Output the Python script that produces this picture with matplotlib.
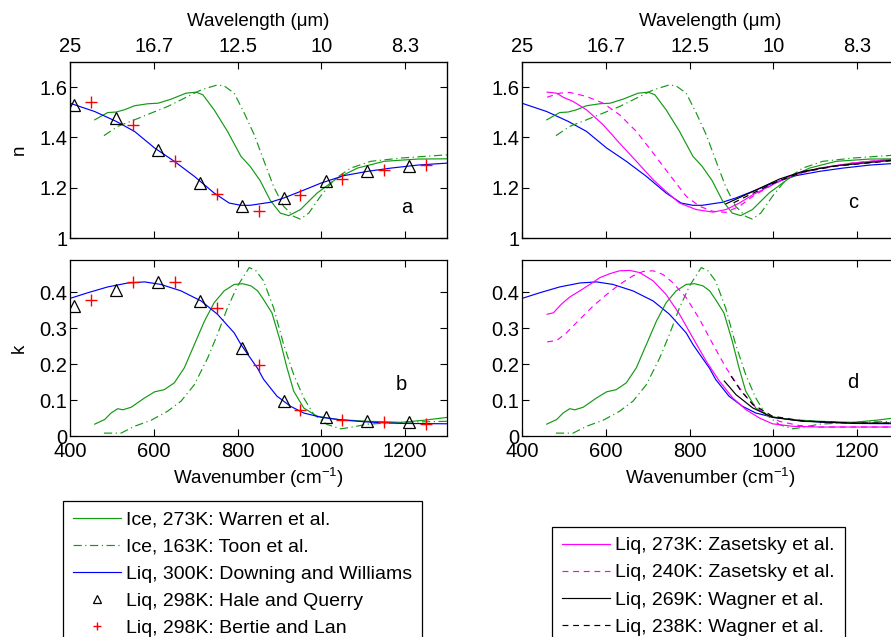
import matplotlib
matplotlib.use('Agg')
import matplotlib.pyplot as plt
from matplotlib.lines import Line2D

plt.rcParams['font.family'] = ['Liberation Sans', 'DejaVu Sans']
plt.rcParams['mathtext.fontset'] = 'custom'
plt.rcParams['mathtext.rm'] = 'Liberation Sans'

# ---------------- data ----------------
wn_ticks = [400, 600, 800, 1000, 1200]
wl_labels = ['25', '16.7', '12.5', '10', '8.3']
n_ticks = [1, 1.2, 1.4, 1.6]
n_labels = ['1', '1.2', '1.4', '1.6']
k_ticks = [0, 0.1, 0.2, 0.3, 0.4]
k_labels = ['0', '0.1', '0.2', '0.3', '0.4']

# Downing and Williams, liquid 300K
dw_n_wn = [400, 459, 510, 554, 602, 649, 697, 744, 780, 808, 830, 878, 910, 950, 1000, 1054, 1110, 1166, 1230, 1302]
dw_n = [1.536, 1.503, 1.464, 1.424, 1.358, 1.305, 1.245, 1.179, 1.139, 1.130, 1.130, 1.142, 1.159, 1.185, 1.219,
        1.248, 1.265, 1.278, 1.290, 1.298]
dw_k_wn = [400, 443, 490, 538, 578, 617, 665, 713, 752, 792, 808, 824, 848, 862, 894, 926, 958, 1000, 1054, 1110, 1190, 1302]
dw_k = [0.383, 0.399, 0.415, 0.426, 0.429, 0.422, 0.404, 0.376, 0.339, 0.287, 0.255, 0.228, 0.188, 0.158, 0.111,
        0.083, 0.064, 0.052, 0.044, 0.039, 0.035, 0.034]

# Warren, ice 273K
wa_n_wn = [459, 490, 510, 530, 554, 586, 610, 641, 677, 701, 717, 744, 776, 808, 830, 854, 878, 902, 922, 950,
           990, 1038, 1086, 1150, 1230, 1302]
wa_n = [1.470, 1.499, 1.501, 1.510, 1.526, 1.534, 1.536, 1.552, 1.576, 1.580, 1.570, 1.510, 1.424, 1.325, 1.285,
        1.228, 1.150, 1.099, 1.089, 1.113, 1.179, 1.238, 1.278, 1.305, 1.314, 1.315]
wa_k_wn = [459, 483, 498, 514, 526, 546, 578, 602, 625, 649, 673, 697, 721, 744, 768, 792, 812, 832, 848, 862,
           882, 902, 918, 934, 958, 990, 1038, 1110, 1190, 1246, 1302]
wa_k = [0.033, 0.046, 0.064, 0.076, 0.073, 0.080, 0.106, 0.123, 0.129, 0.148, 0.190, 0.255, 0.320, 0.371, 0.404,
        0.422, 0.424, 0.418, 0.404, 0.380, 0.343, 0.264, 0.190, 0.125, 0.078, 0.055, 0.046, 0.041, 0.038, 0.044, 0.052]

# Toon, ice 163K
to_n_wn = [481, 514, 554, 594, 633, 673, 713, 752, 768, 792, 816, 840, 862, 886, 910, 934, 950, 970, 998, 1030,
           1070, 1118, 1190, 1302]
to_n = [1.407, 1.444, 1.470, 1.497, 1.523, 1.556, 1.589, 1.609, 1.605, 1.576, 1.497, 1.410, 1.311, 1.205, 1.126,
        1.086, 1.075, 1.099, 1.166, 1.232, 1.278, 1.305, 1.318, 1.331]
to_k_wn = [481, 522, 554, 594, 633, 665, 697, 729, 752, 776, 800, 828, 844, 862, 886, 910, 934, 958, 982, 1014,
           1046, 1070, 1110, 1190, 1302]
to_k = [0.008, 0.008, 0.027, 0.044, 0.069, 0.097, 0.143, 0.218, 0.283, 0.357, 0.418, 0.469, 0.460, 0.432, 0.357,
        0.255, 0.171, 0.106, 0.060, 0.032, 0.020, 0.024, 0.033, 0.038, 0.041]

# Hale and Querry, liquid 298K
hq_wn = [410, 510, 610, 710, 810, 910, 1010, 1110, 1210]
hq_n = [1.527, 1.477, 1.351, 1.219, 1.126, 1.159, 1.228, 1.265, 1.287]
hq_k = [0.362, 0.407, 0.430, 0.376, 0.246, 0.097, 0.052, 0.043, 0.039]

# Bertie and Lan, liquid 298K
bl_wn = [450, 550, 650, 750, 850, 950, 1050, 1150, 1250]
bl_n = [1.539, 1.450, 1.305, 1.176, 1.106, 1.172, 1.236, 1.269, 1.291]
bl_k = [0.380, 0.430, 0.429, 0.357, 0.197, 0.073, 0.044, 0.038, 0.034]

# Zasetsky, liquid 273K and 240K
z273_n_wn = [460, 483, 498, 522, 554, 594, 633, 673, 713, 744, 776, 816, 856, 887, 919, 951, 998, 1038, 1110, 1189, 1300]
z273_n = [1.580, 1.576, 1.560, 1.543, 1.510, 1.450, 1.377, 1.305, 1.232, 1.185, 1.139, 1.113, 1.103, 1.113, 1.139,
          1.172, 1.212, 1.245, 1.278, 1.298, 1.316]
z240_n_wn = [460, 490, 514, 554, 594, 633, 673, 713, 752, 792, 824, 856, 887, 919, 951, 998, 1038, 1110, 1189, 1300]
z240_n = [1.560, 1.576, 1.579, 1.563, 1.536, 1.490, 1.424, 1.338, 1.252, 1.166, 1.126, 1.106, 1.102, 1.126, 1.166,
          1.212, 1.245, 1.278, 1.298, 1.316]
z273_k_wn = [460, 475, 494, 514, 538, 562, 586, 610, 633, 657, 681, 713, 744, 776, 808, 840, 871, 903, 935, 967,
             998, 1046, 1110, 1300]
z273_k = [0.339, 0.343, 0.367, 0.387, 0.404, 0.422, 0.441, 0.452, 0.460, 0.461, 0.455, 0.432, 0.394, 0.339, 0.273,
          0.208, 0.153, 0.106, 0.073, 0.050, 0.034, 0.027, 0.025, 0.025]
z240_k_wn = [460, 483, 506, 538, 570, 602, 633, 665, 689, 713, 736, 760, 792, 824, 856, 887, 919, 951, 983, 1014,
             1062, 1110, 1300]
z240_k = [0.262, 0.266, 0.287, 0.325, 0.362, 0.394, 0.422, 0.446, 0.458, 0.460, 0.450, 0.427, 0.385, 0.325, 0.255,
          0.190, 0.134, 0.087, 0.060, 0.041, 0.029, 0.025, 0.025]

# Wagner, liquid 269K and 238K
w269_n_wn = [887, 951, 1014, 1070, 1149, 1300]
w269_n = [1.136, 1.185, 1.234, 1.265, 1.287, 1.312]
w238_n_wn = [905, 951, 1014, 1070, 1149, 1300]
w238_n = [1.140, 1.178, 1.228, 1.262, 1.286, 1.310]
w269_k_wn = [883, 911, 951, 998, 1070, 1189, 1300]
w269_k = [0.153, 0.115, 0.078, 0.052, 0.041, 0.036, 0.036]
w238_k_wn = [899, 923, 951, 998, 1070, 1189, 1300]
w238_k = [0.167, 0.125, 0.088, 0.055, 0.042, 0.036, 0.036]

labels_left = ['Ice, 273K: Warren et al.', 'Ice, 163K: Toon et al.', 'Liq, 300K: Downing and Williams',
               'Liq, 298K: Hale and Querry', 'Liq, 298K: Bertie and Lan']
labels_right = ['Liq, 273K: Zasetsky et al.', 'Liq, 240K: Zasetsky et al.', 'Liq, 269K: Wagner et al.',
                'Liq, 238K: Wagner et al.']

# ---------------- styles ----------------
GREEN = '#139a13'
BLUE = '#0000ff'
MAG = '#ff00ff'
LW = 0.85
DASHDOT = (0, (7, 3, 1, 3))
DASHED = (0, (5, 4))
FS = 13.5      # axis labels
TFS = 14.5     # tick labels
LFS = 14       # legend

W, H = 891, 637
fig = plt.figure(figsize=(W / 100, H / 100), dpi=100)


def axpos(left, top, right, bottom):
    return [left / W, 1 - bottom / H, (right - left) / W, (bottom - top) / H]


axa = fig.add_axes(axpos(70, 62, 447, 238))
axb = fig.add_axes(axpos(70, 260, 447, 436))
axc = fig.add_axes(axpos(522, 62, 899, 238))
axd = fig.add_axes(axpos(522, 260, 899, 436))

ice_w = dict(color=GREEN, lw=LW, ls='-')
ice_t = dict(color=GREEN, lw=LW, ls=DASHDOT)
liq_dw = dict(color=BLUE, lw=LW, ls='-')
tri = dict(ls='none', marker='^', ms=9, mfc='none', mec='black', mew=0.9)
crs = dict(ls='none', marker='+', ms=9, mec='red', mew=1.0)

# panel a
axa.plot(wa_n_wn, wa_n, **ice_w)
axa.plot(to_n_wn, to_n, **ice_t)
axa.plot(dw_n_wn, dw_n, **liq_dw)
axa.plot(hq_wn, hq_n, **tri)
axa.plot(bl_wn, bl_n, **crs)
# panel b
axb.plot(wa_k_wn, wa_k, **ice_w)
axb.plot(to_k_wn, to_k, **ice_t)
axb.plot(dw_k_wn, dw_k, **liq_dw)
axb.plot(hq_wn, hq_k, **tri)
axb.plot(bl_wn, bl_k, **crs)
# panel c
axc.plot(dw_n_wn, dw_n, **liq_dw)
axc.plot(wa_n_wn, wa_n, **ice_w)
axc.plot(to_n_wn, to_n, **ice_t)
axc.plot(z273_n_wn, z273_n, color=MAG, lw=LW, ls='-')
axc.plot(z240_n_wn, z240_n, color=MAG, lw=LW, ls=DASHED)
axc.plot(w269_n_wn, w269_n, color='black', lw=LW, ls='-')
axc.plot(w238_n_wn, w238_n, color='black', lw=LW, ls=DASHED)
# panel d
axd.plot(dw_k_wn, dw_k, **liq_dw)
axd.plot(wa_k_wn, wa_k, **ice_w)
axd.plot(to_k_wn, to_k, **ice_t)
axd.plot(z273_k_wn, z273_k, color=MAG, lw=LW, ls='-')
axd.plot(z240_k_wn, z240_k, color=MAG, lw=LW, ls=DASHED)
axd.plot(w269_k_wn, w269_k, color='black', lw=LW, ls='-')
axd.plot(w238_k_wn, w238_k, color='black', lw=LW, ls=DASHED)

for ax in (axa, axb, axc, axd):
    ax.set_xlim(400, 1300)
    ax.set_xticks(wn_ticks)
    ax.tick_params(direction='in', top=True, right=True, length=5, width=0.8, labelsize=TFS)
    ax.tick_params(axis='x', pad=4)
    ax.tick_params(axis='y', pad=2)
    for s in ax.spines.values():
        s.set_linewidth(0.9)

for ax in (axa, axc):
    ax.set_ylim(1, 1.7)
    ax.set_yticks(n_ticks, n_labels)
    ax.tick_params(labelbottom=False)
    tw = ax.twiny()
    tw.set_xlim(400, 1300)
    tw.set_xticks(wn_ticks, wl_labels)
    tw.tick_params(direction='in', length=5, width=0.8, labelsize=TFS, pad=4)
    tw.set_xlabel('Wavelength (\u03bcm)', fontsize=FS, labelpad=8)

for ax in (axb, axd):
    ax.set_ylim(0, 0.49)
    ax.set_yticks(k_ticks, k_labels)
    ax.set_xticks(wn_ticks, [str(v) for v in wn_ticks])
    ax.set_xlabel('Wavenumber (cm$^{-1}$)', fontsize=FS, labelpad=3)

axa.set_ylabel('n', fontsize=FS)
axb.set_ylabel('k', fontsize=FS)
axa.yaxis.set_label_coords(-0.112, 0.5)
axb.yaxis.set_label_coords(-0.112, 0.5)

axa.text(1204, 1.12, 'a', fontsize=TFS, ha='center', va='center')
axb.text(1192, 0.142, 'b', fontsize=TFS, ha='center', va='center')
axc.text(1190, 1.143, 'c', fontsize=TFS, ha='center', va='center')
axd.text(1190, 0.148, 'd', fontsize=TFS, ha='center', va='center')

h_left = [Line2D([], [], **ice_w), Line2D([], [], **ice_t), Line2D([], [], **liq_dw),
          Line2D([], [], **tri), Line2D([], [], **crs)]
h_right = [Line2D([], [], color=MAG, lw=LW, ls='-'), Line2D([], [], color=MAG, lw=LW, ls=DASHED),
           Line2D([], [], color='black', lw=LW, ls='-'), Line2D([], [], color='black', lw=LW, ls=DASHED)]

leg_kw = dict(loc='upper left', borderaxespad=0, fancybox=False, edgecolor='black', framealpha=1,
              fontsize=LFS, handlelength=2.5, handletextpad=0.25, labelspacing=0.49, borderpad=0.5,
              markerscale=0.6, numpoints=1)
lg1 = fig.legend(h_left, labels_left, bbox_to_anchor=(63 / W, 1 - 501 / H), **leg_kw)
lg2 = fig.legend(h_right, labels_right, bbox_to_anchor=(552 / W, 1 - 527 / H), **leg_kw)
for lg in (lg1, lg2):
    lg.get_frame().set_linewidth(0.9)

fig.savefig('out.png', dpi=100)
